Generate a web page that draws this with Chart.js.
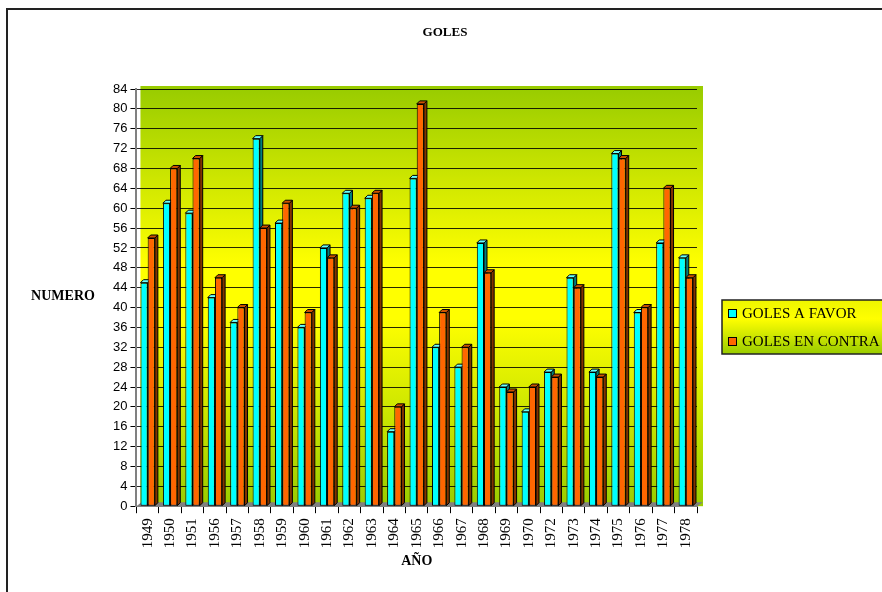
<!DOCTYPE html>
<html>
<head>
<meta charset="utf-8">
<script src="https://cdn.jsdelivr.net/npm/chart.js@4/dist/chart.umd.min.js"></script>
<style>
  html, body { margin: 0; padding: 0; background: #fff; overflow: hidden; }
</style>
</head>
<body>
<canvas id="golesChart" width="882" height="592"></canvas>
<script>
// años del eje x
const years = ['1949','1950','1951','1956','1957','1958','1959','1960','1961','1962','1963','1964','1965',
  '1966','1967','1968','1969','1970','1972','1973','1974','1975','1976','1977','1978'];
const golesFavor  = [45,61,59,42,37,74,57,36,52,63,62,15,66,32,28,53,24,19,27,46,27,71,39,53,50];
const golesContra = [54,68,70,46,40,56,61,39,50,60,63,20,81,39,32,47,23,24,26,44,26,70,40,64,46];
const yMax = 84;
const yStep = 4;

const serif = "'Liberation Serif', 'Times New Roman', serif";
const sans = "'Liberation Sans', Arial, sans-serif";

// marco, fondo del area, titulo y rotulo NUMERO
const backdrop = {
  id: 'backdrop',
  beforeDraw(chart) {
    const {ctx, chartArea: a} = chart;
    ctx.save();
    ctx.fillStyle = '#fff';
    ctx.fillRect(0, 0, chart.width, chart.height);
    ctx.strokeStyle = '#222';
    ctx.lineWidth = 2;
    ctx.beginPath();
    ctx.moveTo(7, chart.height + 5);
    ctx.lineTo(7, 9);
    ctx.lineTo(chart.width + 5, 9);
    ctx.stroke();

    const g = ctx.createLinearGradient(0, a.top, 0, a.bottom);
    g.addColorStop(0, '#99cc00');
    g.addColorStop(0.42, '#ffff00');
    g.addColorStop(0.55, '#ffff00');
    g.addColorStop(1, '#99cc00');
    ctx.fillStyle = g;
    ctx.fillRect(a.left + 4, a.top - 3, a.right - a.left + 2, a.bottom - a.top + 3);

    // suelo gris
    ctx.fillStyle = '#808080';
    ctx.beginPath();
    ctx.moveTo(a.left, a.bottom);
    ctx.lineTo(a.left + 5, a.bottom - 4);
    ctx.lineTo(a.right + 6, a.bottom - 4);
    ctx.lineTo(a.right, a.bottom);
    ctx.closePath();
    ctx.fill();

    ctx.fillStyle = '#000';
    ctx.textAlign = 'center';
    ctx.textBaseline = 'middle';
    ctx.font = 'bold 13px ' + serif;
    ctx.fillText('GOLES', 445, 33);
    ctx.font = 'bold 14px ' + serif;
    ctx.fillText('NUMERO', 63, 296);
    ctx.restore();
  }
};

// caras 3D de las barras (detras del frente)
const bars3d = {
  id: 'bars3d',
  beforeDatasetsDraw(chart) {
    const ctx = chart.ctx;
    const d = 3;
    const tops = ['#66ffff', '#cc5200'];
    const sides = ['#007f7f', '#803300'];
    ctx.save();
    ctx.strokeStyle = '#000';
    ctx.lineWidth = 1;
    chart.data.datasets.forEach((ds, i) => {
      chart.getDatasetMeta(i).data.forEach(bar => {
        const l = bar.x - bar.width / 2, r = bar.x + bar.width / 2;
        const y = bar.y, b = bar.base;
        ctx.fillStyle = sides[i];
        ctx.beginPath();
        ctx.moveTo(r, y); ctx.lineTo(r + d, y - d); ctx.lineTo(r + d, b - d); ctx.lineTo(r, b);
        ctx.closePath(); ctx.fill(); ctx.stroke();
        ctx.fillStyle = tops[i];
        ctx.beginPath();
        ctx.moveTo(l, y); ctx.lineTo(l + d, y - d); ctx.lineTo(r + d, y - d); ctx.lineTo(r, y);
        ctx.closePath(); ctx.fill(); ctx.stroke();
      });
    });
    ctx.restore();
  }
};

// leyenda a la derecha
const sideLegend = {
  id: 'sideLegend',
  afterDraw(chart) {
    const ctx = chart.ctx;
    const x = 722, y = 300, w = 200, h = 54;
    ctx.save();
    const g = ctx.createLinearGradient(0, y, 0, y + h);
    g.addColorStop(0, '#eef500');
    g.addColorStop(0.35, '#ffff00');
    g.addColorStop(1, '#99cc00');
    ctx.fillStyle = g;
    ctx.fillRect(x, y, w, h);
    ctx.strokeStyle = '#222';
    ctx.lineWidth = 1.5;
    ctx.strokeRect(x, y, w, h);
    ctx.font = '15px ' + serif;
    ctx.textBaseline = 'middle';
    ctx.textAlign = 'left';
    chart.data.datasets.forEach((ds, i) => {
      const cy = y + 13 + i * 28;
      ctx.fillStyle = ds.backgroundColor;
      ctx.fillRect(x + 6, cy - 4, 8, 8);
      ctx.lineWidth = 1;
      ctx.strokeStyle = '#000';
      ctx.strokeRect(x + 6.5, cy - 3.5, 8, 8);
      ctx.fillStyle = '#000';
      ctx.fillText(ds.label, x + 20, cy + 1);
    });
    ctx.restore();
  }
};

new Chart(document.getElementById('golesChart'), {
  type: 'bar',
  data: {
    labels: years,
    datasets: [
      { label: 'GOLES A FAVOR', data: golesFavor, backgroundColor: '#00ffff',
        borderColor: '#000', borderWidth: 1, borderSkipped: false },
      { label: 'GOLES EN CONTRA', data: golesContra, backgroundColor: '#ff6600',
        borderColor: '#000', borderWidth: 1, borderSkipped: false }
    ]
  },
  options: {
    responsive: false,
    animation: false,
    layout: { padding: { top: 89, left: 110, right: 185, bottom: 20 } },
    datasets: { bar: { categoryPercentage: 0.64, barPercentage: 1 } },
    plugins: {
      legend: { display: false },
      tooltip: { enabled: false },
      title: { display: false }
    },
    scales: {
      x: {
        grid: { offset: true, drawOnChartArea: false, tickLength: 7, tickColor: '#000' },
        border: { color: '#808080', width: 1 },
        ticks: { color: '#000', font: { family: serif, size: 15 }, maxRotation: 90, minRotation: 90, padding: 5 },
        title: { display: true, text: 'AÑO', color: '#000',
          font: { family: serif, size: 14, weight: 'bold' }, padding: { top: 0, bottom: 2 } }
      },
      y: {
        min: 0,
        max: yMax,
        grid: { color: 'rgba(0,0,0,0.85)', tickLength: 6, tickColor: '#000' },
        border: { color: '#808080', width: 2 },
        ticks: { stepSize: yStep, color: '#000', font: { family: sans, size: 13 }, padding: 3 }
      }
    }
  },
  plugins: [backdrop, bars3d, sideLegend]
});
</script>
</body>
</html>
